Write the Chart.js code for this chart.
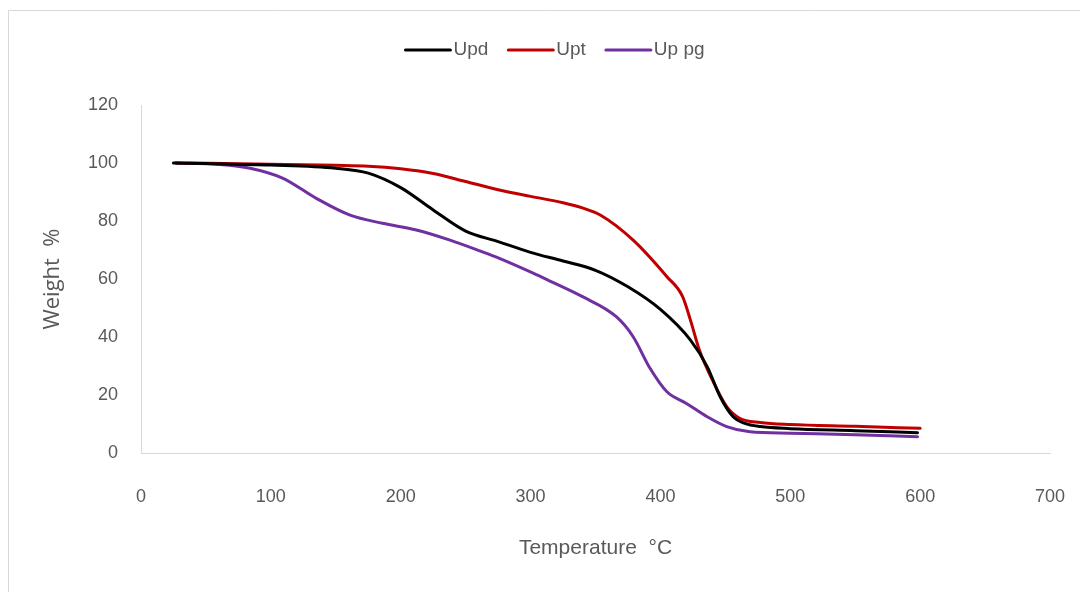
<!DOCTYPE html>
<html>
<head>
<meta charset="utf-8">
<script src="https://cdn.jsdelivr.net/npm/chart.js@4/dist/chart.umd.min.js"></script>
<style>
  html, body { margin: 0; padding: 0; background: #ffffff; }
  #wrap { width: 1080px; height: 592px; position: relative; }
</style>
</head>
<body>
<div id="wrap"><canvas id="c" width="1080" height="592"></canvas></div>
<script>
// ---- Data ----
const seriesNames = ["Upd", "Upt", "Up pg"];

const updTemp   = [25, 50, 100, 150, 175, 200, 225, 250, 275, 300, 325, 350, 375, 400, 423, 436, 446, 456, 465, 477, 500, 550, 598];
const updWeight = [100, 99.8, 99.3, 98.2, 96.5, 91.5, 83.8, 76.5, 72.9, 69.2, 66.2, 63, 57.3, 49.5, 39, 29.8, 19.4, 12.5, 10.2, 9.1, 8.4, 7.7, 7.0];

const uptTemp   = [27, 100, 150, 175, 200, 225, 250, 275, 300, 325, 340, 354, 379, 405, 417, 423, 430, 440, 451, 461, 477, 500, 550, 600];
const uptWeight = [100, 99.6, 99.2, 98.9, 98, 96.4, 93.6, 90.8, 88.5, 86.3, 84.5, 82, 73.4, 60.8, 54, 46, 35.5, 25.2, 16, 12, 10.5, 9.8, 9.2, 8.5];

const uppgTemp   = [27, 60, 84, 109, 135, 161, 186, 212, 238, 262, 276, 302, 313, 340, 366, 379, 392, 405, 420, 436, 451, 469, 500, 550, 598];
const uppgWeight = [100, 99.5, 98.2, 94.8, 87.8, 82, 79.2, 76.9, 73.4, 69.5, 67.1, 62, 59.7, 53.9, 47, 40.1, 29.2, 21.1, 17.1, 12.5, 9.1, 7.3, 6.8, 6.3, 5.6];

const seriesColors = ["#000000", "#c00000", "#7030a0"];

const xTickValues = [0, 100, 200, 300, 400, 500, 600, 700];
const yTickValues = [0, 20, 40, 60, 80, 100, 120];

const xTitle = "Temperature  °C";
const yTitle = "Weight  %";

// ---- Build chart ----
const FONT = "'Liberation Sans', Arial, sans-serif";
const FONT_Y = "'Open Sans', 'Liberation Sans', sans-serif";
const TXT = "#595959";

function pts(xs, ys) { return xs.map((x, i) => ({ x: x, y: ys[i] })); }

const datasets = [
  { label: seriesNames[0], data: pts(updTemp, updWeight) },
  { label: seriesNames[1], data: pts(uptTemp, uptWeight) },
  { label: seriesNames[2], data: pts(uppgTemp, uppgWeight) }
].map((d, i) => Object.assign(d, {
  borderColor: seriesColors[i],
  backgroundColor: seriesColors[i],
  borderWidth: 3,
  pointRadius: 0,
  fill: false,
  cubicInterpolationMode: 'monotone',
  borderCapStyle: 'round'
}));

const framePlugin = {
  id: 'frame',
  beforeDraw(chart) {
    const ctx = chart.ctx;
    ctx.save();
    ctx.fillStyle = '#ffffff';
    ctx.fillRect(0, 0, chart.width, chart.height);
    ctx.strokeStyle = '#d9d9d9';
    ctx.lineWidth = 1;
    ctx.beginPath();
    ctx.moveTo(8.5, 600);
    ctx.lineTo(8.5, 10.5);
    ctx.lineTo(1090, 10.5);
    ctx.stroke();
    ctx.restore();
  }
};

const legendPlugin = {
  id: 'customLegend',
  afterDraw(chart) {
    const ctx = chart.ctx;
    ctx.save();
    ctx.font = "19px " + FONT;
    ctx.textBaseline = 'middle';
    ctx.textAlign = 'left';
    const lineW = 45, gapT = 3, gapItem = 20, y = 50;
    const items = chart.data.datasets.map(d => ({ label: d.label, color: d.borderColor, w: ctx.measureText(d.label).width }));
    let total = 0;
    items.forEach((it, i) => { total += lineW + gapT + it.w + (i < items.length - 1 ? gapItem : 0); });
    let x = 555 - total / 2;
    items.forEach(it => {
      ctx.strokeStyle = it.color;
      ctx.lineWidth = 3;
      ctx.lineCap = 'round';
      ctx.beginPath();
      ctx.moveTo(x, y);
      ctx.lineTo(x + lineW, y);
      ctx.stroke();
      ctx.fillStyle = TXT;
      ctx.fillText(it.label, x + lineW + gapT, y);
      x += lineW + gapT + it.w + gapItem;
    });
    ctx.restore();
  }
};

new Chart(document.getElementById('c'), {
  type: 'line',
  data: { datasets: datasets },
  options: {
    responsive: false,
    animation: false,
    devicePixelRatio: 1,
    layout: { padding: { top: 105, right: 30, left: 0, bottom: 0 } },
    plugins: {
      legend: { display: false },
      tooltip: { enabled: false }
    },
    scales: {
      x: {
        type: 'linear',
        min: xTickValues[0],
        max: xTickValues[xTickValues.length - 1],
        afterBuildTicks(scale) { scale.ticks = xTickValues.map(v => ({ value: v })); },
        afterFit(scale) {
          scale.height = 592 - 453;
          scale.paddingLeft = 0;
          scale.paddingRight = 0;
        },
        grid: { display: false, drawTicks: false },
        border: { display: true, color: '#d9d9d9', width: 1 },
        ticks: { color: TXT, font: { family: FONT, size: 18 }, padding: 33, maxRotation: 0 },
        title: {
          display: true, text: xTitle, color: TXT,
          font: { family: FONT, size: 21 }, padding: { top: 0, bottom: 31 }
        }
      },
      y: {
        type: 'linear',
        min: yTickValues[0],
        max: yTickValues[yTickValues.length - 1],
        afterBuildTicks(scale) { scale.ticks = yTickValues.map(v => ({ value: v })); },
        afterFit(scale) { scale.width = 141; },
        grid: { display: false, drawTicks: false },
        border: { display: true, color: '#d9d9d9', width: 1 },
        ticks: { color: TXT, font: { family: FONT, size: 18 }, padding: 23 },
        title: {
          display: true, text: yTitle, color: TXT,
          font: { family: FONT_Y, size: 22 }, padding: { top: 40, bottom: 0 }
        }
      }
    }
  },
  plugins: [framePlugin, legendPlugin]
});
</script>
</body>
</html>
